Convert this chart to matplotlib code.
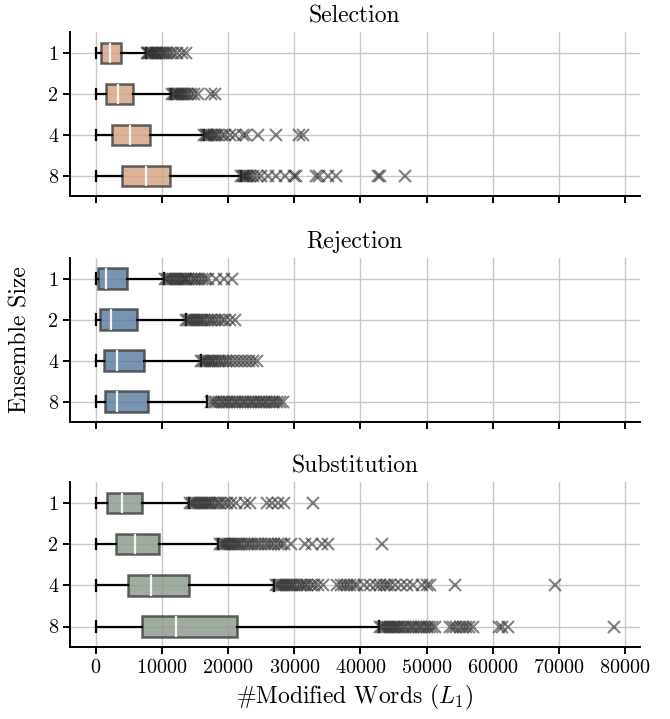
import matplotlib.pyplot as plt

plt.rcParams['font.family'] = 'serif'
plt.rcParams['font.serif'] = ['cmr10']
plt.rcParams['mathtext.fontset'] = 'cm'
plt.rcParams['axes.formatter.use_mathtext'] = True

# ensemble sizes (y categories)
sizes = ['1', '2', '4', '8']
panels = ['Selection', 'Rejection', 'Substitution']
colors = ['#d4a07f', '#58799c', '#8a9888']

# box stats per panel, per ensemble size: (whislo, q1, med, q3, whishi)
sel_stats = [(0, 750, 2100, 3770, 7600),
             (0, 1600, 3370, 5640, 11400),
             (0, 2500, 5230, 8150, 16300),
             (0, 3970, 7650, 11270, 21900)]
rej_stats = [(0, 390, 1500, 4630, 10300),
             (0, 650, 2340, 6190, 13570),
             (0, 1170, 3260, 7240, 15850),
             (0, 1370, 3260, 7900, 16830)]
sub_stats = [(0, 1650, 3950, 6900, 14100),
             (0, 3020, 5890, 9560, 18500),
             (0, 4880, 8400, 14040, 27000),
             (0, 6900, 12180, 21330, 42800)]

# outliers
sel_fliers = [
    [7700, 7900, 8100, 8300, 8500, 8700, 8900, 9100, 9300, 9500, 9800, 10100,
     10400, 10800, 11200, 11700, 12300, 13000, 13600],
    [11500, 11800, 12000, 12200, 12400, 12600, 12800, 13000, 13300, 13600,
     14000, 14400, 14900, 15400, 17400, 18000],
    [16400, 16600, 16800, 17000, 17200, 17500, 17800, 18100, 18500, 19000,
     19600, 20300, 21000, 22300, 22700, 24500, 27200, 30700, 31300],
    [22000, 22200, 22400, 22600, 22800, 23000, 23300, 23700, 24300, 25000,
     26000, 27300, 28600, 30000, 30300, 33300, 33700, 35100, 36300, 42600,
     43000, 46700],
]
rej_fliers = [
    [10400, 10700, 11000, 11300, 11600, 11900, 12200, 12500, 12800, 13100,
     13400, 13700, 14000, 14400, 14800, 15200, 15600, 16000, 16500, 17000,
     18100, 19300, 20600],
    [13700, 14000, 14300, 14600, 14900, 15200, 15500, 15800, 16100, 16400,
     16800, 17200, 17600, 18000, 18500, 19000, 19600, 20300, 21000],
    [15900, 16200, 16500, 16800, 17100, 17400, 17700, 18000, 18400, 18800,
     19200, 19700, 20200, 20700, 21300, 22000, 22600, 23200, 23800, 24400],
    [17400, 17800, 18200, 18600, 19000, 19400, 19800, 20200, 20600, 21000,
     21400, 21800, 22200, 22600, 23000, 23400, 23800, 24200, 24600, 25000,
     25400, 25800, 26200, 26600, 27000, 27400, 27800, 28300],
]
sub_fliers = [
    [14200, 14500, 14800, 15100, 15400, 15700, 16000, 16300, 16600, 16900,
     17200, 17600, 18000, 18400, 18800, 19300, 19800, 20500, 21200, 22600,
     23300, 25900, 26600, 27500, 28400, 32800],
    [18700, 19000, 19300, 19600, 19900, 20200, 20500, 20800, 21100, 21400,
     21700, 22000, 22400, 22800, 23200, 23600, 24000, 24500, 25000, 25500,
     26000, 26500, 27000, 27500, 28000, 28500, 29500, 31600, 32700, 34200,
     35100, 43300],
    [27300, 27600, 27900, 28200, 28500, 28800, 29100, 29400, 29700, 30000,
     30400, 30800, 31200, 31600, 32000, 32500, 33000, 33600, 34300, 36500,
     37000, 37500, 38000, 38500, 39000, 39500, 40500, 41500, 42300, 43000,
     43500, 44000, 44500, 45300, 46200, 47000, 48000, 49300, 50000, 50600,
     54300, 69500],
    [43000, 43300, 43600, 43900, 44200, 44500, 44800, 45100, 45400, 45700,
     46000, 46400, 46800, 47200, 47600, 48000, 48400, 48800, 49200, 49600,
     50000, 50400, 50800, 51300, 53500, 54000, 54500, 55000, 55500, 56000,
     56500, 57000, 61000, 61400, 62300, 78300],
]

all_stats = [sel_stats, rej_stats, sub_stats]
all_fliers = [sel_fliers, rej_fliers, sub_fliers]

fig = plt.figure(figsize=(6.7, 7.19), dpi=100)
# axes rectangles (left, bottom, width, height)
rects = [(0.1045, 0.727, 0.85, 0.228),
         (0.1045, 0.413, 0.85, 0.228),
         (0.1045, 0.100, 0.85, 0.229)]

axes = []
for i, (name, stats, fl, col) in enumerate(zip(panels, all_stats, all_fliers, colors)):
    ax = fig.add_axes(rects[i], sharex=axes[0] if axes else None)
    axes.append(ax)
    bxp_stats = []
    for (lo, q1, med, q3, hi), f in zip(stats, fl):
        bxp_stats.append(dict(whislo=lo, q1=q1, med=med, q3=q3, whishi=hi, fliers=f))
    ax.bxp(bxp_stats, positions=range(len(sizes)), orientation='horizontal',
           widths=0.5, patch_artist=True, zorder=3,
           boxprops=dict(facecolor=col, edgecolor='#3c3c3c', linewidth=1.8, alpha=0.8),
           medianprops=dict(color='#f4f4f4', linewidth=1.6),
           whiskerprops=dict(color='black', linewidth=1.6),
           capprops=dict(color='black', linewidth=1.6),
           flierprops=dict(marker='x', markersize=9, markeredgecolor='#303030',
                           markeredgewidth=1.5, alpha=0.6))
    ax.set_yticks(range(len(sizes)))
    ax.set_yticklabels(sizes)
    ax.set_ylim(3.5, -0.5)
    ax.set_title(name, fontsize=17, pad=7)
    ax.grid(True, color='#c8c8c8', linewidth=1.0, zorder=0)
    ax.set_axisbelow(True)
    for s in ['top', 'right']:
        ax.spines[s].set_visible(False)
    for s in ['left', 'bottom']:
        ax.spines[s].set_linewidth(1.4)
    ax.tick_params(axis='both', labelsize=14.5, width=1.4, length=5)
    if i < 2:
        ax.tick_params(axis='x', labelbottom=False)

axes[0].set_xticks([0, 10000, 20000, 30000, 40000, 50000, 60000, 70000, 80000])
axes[1].set_ylabel('Ensemble Size', fontsize=17)
axes[1].yaxis.set_label_coords(-0.068, 0.5)
axes[2].set_xlabel(r'#Modified Words ($L_1$)', fontsize=17)

fig.savefig('out.png', dpi=100)
